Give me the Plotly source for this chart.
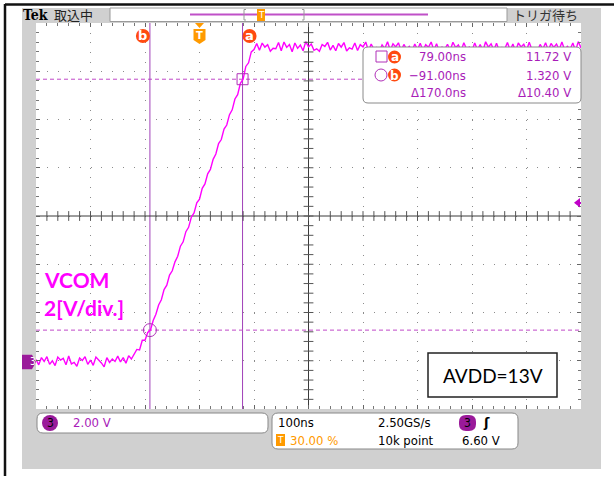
import plotly.graph_objects as go

# ---------------- data ----------------
base_time_ns = [-300, -295, -290, -285, -280, -275, -270, -265, -260, -255,
                -250, -245, -240, -235, -230, -225, -220, -215, -210, -205,
                -200, -195, -190, -185, -180, -175, -170, -165, -160, -155,
                -150, -145, -140, -135, -130, -125]
base_volt = [0.10, -0.12, 0.18, 0.02, 0.22, -0.10, 0.05, -0.15, 0.20, 0.08,
             0.15, -0.12, 0.25, -0.08, -0.02, -0.18, 0.16, 0.06, 0.22, -0.10,
             0.08, -0.14, 0.20, 0.10, -0.04, -0.20, 0.18, -0.02, 0.12, 0.02,
             0.24, 0.00, 0.18, -0.05, 0.26, 0.12]

rise_time_ns = [-120, -115, -110, -105, -100, -95, -90, -85, -80, -75,
                -70, -65, -60, -55, -50, -45, -40, -35, -30, -25,
                -20, -15, -10, -5, 0, 5, 10, 15, 20, 25,
                30, 35, 40, 45, 50, 55, 60, 65, 70, 75,
                80, 85, 90, 95, 100]
rise_volt = [0.30, 0.52, 0.50, 0.90, 0.90, 1.22, 1.32, 1.72, 1.98, 2.36,
             2.58, 3.00, 3.18, 3.60, 3.78, 4.15, 4.38, 4.80, 4.98, 5.40,
             5.58, 6.00, 6.18, 6.60, 6.75, 7.20, 7.38, 7.80, 7.98, 8.40,
             8.62, 9.05, 9.22, 9.65, 9.82, 10.25, 10.45, 10.90, 11.08, 11.55,
             11.72, 12.25, 12.40, 12.85, 12.95]

top_time_ns = [105, 110, 115, 120, 125, 130, 135, 140, 145, 150,
               155, 160, 165, 170, 175, 180, 185, 190, 195, 200,
               205, 210, 215, 220, 225, 230, 235, 240, 245, 250,
               255, 260, 265, 270, 275, 280, 285, 290, 295, 300,
               305, 310, 315, 320, 325, 330, 335, 340, 345, 350,
               355, 360, 365, 370, 375, 380, 385, 390, 395, 400,
               405, 410, 415, 420, 425, 430, 435, 440, 445, 450,
               455, 460, 465, 470, 475, 480, 485, 490, 495, 500,
               505, 510, 515, 520, 525, 530, 535, 540, 545, 550,
               555, 560, 565, 570, 575, 580, 585, 590, 595, 600,
               605, 610, 615, 620, 625, 630, 635, 640, 645, 650,
               655, 660, 665, 670, 675, 680, 685, 690, 695, 700]
top_volt = [13.20, 12.92, 13.22, 13.05, 13.15, 12.88, 13.00, 12.98, 13.24, 12.90,
            13.26, 13.04, 13.16, 12.86, 13.22, 13.00, 13.14, 12.90, 13.28, 13.06,
            13.18, 12.92, 12.98, 12.88, 13.16, 13.08, 13.25, 12.93, 13.12, 12.90,
            13.20, 13.05, 13.24, 12.89, 13.02, 12.97, 13.22, 12.91, 13.15, 13.06,
            13.26, 12.90, 13.18, 12.96, 13.04, 12.88, 13.14, 12.99, 13.27, 12.92,
            13.19, 13.06, 13.23, 12.90, 13.16, 12.97, 13.08, 12.89, 13.18, 12.95,
            13.21, 12.91, 13.15, 13.04, 13.26, 12.93, 13.19, 12.88, 13.05, 12.96,
            13.17, 12.92, 13.25, 13.03, 13.14, 12.90, 13.23, 12.97, 13.06, 12.91,
            13.22, 12.94, 13.16, 12.89, 13.27, 13.05, 13.19, 12.93, 13.21, 12.90,
            13.04, 12.97, 13.24, 12.92, 13.18, 12.88, 13.22, 13.06, 13.17, 12.91,
            13.25, 12.94, 13.02, 12.90, 13.16, 12.97, 13.23, 12.92, 13.20, 13.04,
            13.18, 12.95, 13.26, 12.93, 13.08, 12.96, 13.22, 12.90, 13.28, 13.02]

cursor_labels = ["a", "b"]
cursor_time_ns = [79.0, -91.0]
cursor_volt = [11.72, 1.320]
readout_rows = [["79.00ns", "11.72 V"], ["\u221291.00ns", "1.320 V"], ["\u0394170.0ns", "\u039410.40 V"]]
trigger_level_v = 6.60
trigger_time_ns = 0.0
x_range_ns = [-300, 700]       # 100 ns/div, trigger at 30 %
y_range_v = [-1.95, 14.05]     # 2 V/div
x_div = 100
y_div = 2
status_left = "取込中"
status_right = "トリガ待ち"
ch_scale = "2.00 V"
timebase = "100ns"
sample_rate = "2.50GS/s"
trig_pos = "30.00 %"
rec_len = "10k point"
trig_level_txt = "6.60 V"
label_signal = ["VCOM", "2[V/div.]"]
label_supply = "AVDD=13V"

# ---------------- geometry helpers (pixel -> paper) ----------------
W, H = 614, 477
L, R, T, B = 36, 581, 23, 409


def X(px):
    return (px - L) / (R - L)


def Y(py):
    return (B - py) / (B - T)


def rrect(x0, y0, x1, y1, r):
    return (f"M {X(x0+r)},{Y(y0)} L {X(x1-r)},{Y(y0)} Q {X(x1)},{Y(y0)} {X(x1)},{Y(y0+r)} "
            f"L {X(x1)},{Y(y1-r)} Q {X(x1)},{Y(y1)} {X(x1-r)},{Y(y1)} "
            f"L {X(x0+r)},{Y(y1)} Q {X(x0)},{Y(y1)} {X(x0)},{Y(y1-r)} "
            f"L {X(x0)},{Y(y0+r)} Q {X(x0)},{Y(y0)} {X(x0+r)},{Y(y0)} Z")


MONO = "DejaVu Sans Condensed, DejaVu Sans, sans-serif"
JP = "Noto Sans CJK JP"
PURPLE_TXT = "#A81CB8"
GREY = "#D0D0D0"
ORANGE = "#FF9A00"
RED_ORANGE = "#FF4A10"

shapes = []
anns = []


def ann(text, x, y, size=12, color="black", xanchor="left", family=MONO, **kw):
    anns.append(dict(text=text, x=X(x), y=Y(y), xref="paper", yref="paper", showarrow=False,
                     xanchor=xanchor, yanchor="middle", font=dict(size=size, color=color, family=family), **kw))


def rect(x0, y0, x1, y1, fill, line=None, lw=1, layer="above"):
    shapes.append(dict(type="rect", xref="paper", yref="paper", x0=X(x0), x1=X(x1), y0=Y(y0), y1=Y(y1),
                       fillcolor=fill, line=dict(color=line or fill, width=lw if line else 0), layer=layer))


def pline(x0, y0, x1, y1, color, w=1, dash="solid"):
    shapes.append(dict(type="line", xref="paper", yref="paper", x0=X(x0), x1=X(x1), y0=Y(y0), y1=Y(y1),
                       line=dict(color=color, width=w, dash=dash), layer="above"))


# ---------------- figure ----------------
fig = go.Figure()

time_all = base_time_ns + rise_time_ns + top_time_ns
volt_all = base_volt + rise_volt + top_volt
fig.add_trace(go.Scatter(x=time_all, y=volt_all, mode="lines",
                         line=dict(color="#FF00FF", width=1.4), hoverinfo="skip", showlegend=False))

# centre crosshair with minor ticks (graticule)
xc = (x_range_ns[0] + x_range_ns[1]) / 2
yc = (y_range_v[0] + y_range_v[1]) / 2
shapes.append(dict(type="line", xref="x", yref="y", x0=x_range_ns[0], x1=x_range_ns[1], y0=yc, y1=yc,
                   line=dict(color="#3a3a3a", width=1), layer="between"))
shapes.append(dict(type="line", xref="x", yref="y", x0=xc, x1=xc, y0=y_range_v[0], y1=y_range_v[1],
                   line=dict(color="#3a3a3a", width=1), layer="between"))
n_x = int(round((x_range_ns[1] - x_range_ns[0]) / (x_div / 5)))
n_y = int(round((y_range_v[1] - y_range_v[0]) / (y_div / 5)))
tx = [x_range_ns[0] + i * x_div / 5 for i in range(1, n_x)]
ty = [y_range_v[0] + i * y_div / 5 for i in range(1, n_y)]
fig.add_trace(go.Scatter(x=tx, y=[yc] * len(tx), mode="markers", hoverinfo="skip", showlegend=False,
                         marker=dict(symbol="line-ns", size=7, line=dict(color="#555", width=1))))
fig.add_trace(go.Scatter(x=[xc] * len(ty), y=ty, mode="markers", hoverinfo="skip", showlegend=False,
                         marker=dict(symbol="line-ew", size=7, line=dict(color="#555", width=1))))

# cursors
for lab, ct, cv in zip(cursor_labels, cursor_time_ns, cursor_volt):
    shapes.append(dict(type="line", xref="x", yref="paper", x0=ct, x1=ct, y0=0, y1=1,
                       line=dict(color="#A040B8", width=1), layer="between"))
    shapes.append(dict(type="line", xref="paper", yref="y", x0=0, x1=1, y0=cv, y1=cv,
                       line=dict(color="#C048C8", width=1, dash="4px,3px"), layer="between"))
fig.add_trace(go.Scatter(x=[cursor_time_ns[0]], y=[cursor_volt[0]], mode="markers", hoverinfo="skip",
                         showlegend=False,
                         marker=dict(symbol="square-open", size=11, color="#B030B8", line=dict(width=1))))
fig.add_trace(go.Scatter(x=[cursor_time_ns[1]], y=[cursor_volt[1]], mode="markers", hoverinfo="skip",
                         showlegend=False,
                         marker=dict(symbol="circle-open", size=13, color="#B030B8", line=dict(width=1))))

# cursor badges at top of graticule
for lab, ct, off in zip(cursor_labels, cursor_time_ns, [7, -7]):
    shapes.append(dict(type="circle", xref="x", yref="paper", xsizemode="pixel", ysizemode="pixel",
                       xanchor=ct, yanchor=1, x0=off - 7, x1=off + 7, y0=-(36 - T) - 7, y1=-(36 - T) + 7,
                       fillcolor=RED_ORANGE, line=dict(width=0), layer="above"))
    anns.append(dict(text=f"<b>{lab}</b>", x=ct, y=1, xref="x", yref="paper", xshift=off, yshift=-(36 - T) + 1,
                     xanchor="center", yanchor="middle", showarrow=False,
                     font=dict(size=13, color="white", family="DejaVu Sans")))

# trigger position marker (T): small down-triangle on the top edge plus badge
shapes.append(dict(type="path", xref="x", yref="paper", xsizemode="pixel", ysizemode="pixel",
                   xanchor=trigger_time_ns, yanchor=1,
                   path="M -4.5,0 L 4.5,0 L 0,-5 Z",
                   fillcolor=ORANGE, line=dict(width=0), layer="above"))
shapes.append(dict(type="path", xref="x", yref="paper", xsizemode="pixel", ysizemode="pixel",
                   xanchor=trigger_time_ns, yanchor=1,
                   path="M -6,-6 L 6,-6 L 6,-17 L 0,-21 L -6,-17 Z",
                   fillcolor=ORANGE, line=dict(width=0), layer="above"))
anns.append(dict(text="<b>T</b>", x=trigger_time_ns, y=1, xref="x", yref="paper", yshift=-12.5, showarrow=False,
                 xanchor="center", yanchor="middle", font=dict(size=10, color="white", family="DejaVu Sans")))

# trigger level arrow on right edge
shapes.append(dict(type="path", xref="paper", yref="y",
                   path=f"M {X(574)},{trigger_level_v} L {X(580)},{trigger_level_v + 0.2} "
                        f"L {X(580)},{trigger_level_v - 0.2} Z",
                   fillcolor="#C000C8", line=dict(width=0), layer="above"))
pline(578, 203, 581, 203, "#C000C8", 2)

# ---------------- scope chrome ----------------
rect(22, 8, 601, 23, GREY)
rect(22, 409, 601, 469, GREY)
rect(22, 8, 36, 469, GREY)
rect(581, 8, 601, 469, GREY)
pline(5, 4.5, 614, 4.5, "#111", 2.5)
pline(5, 4, 5, 476, "#111", 2.5)
rect(110, 8, 507, 21.5, "white", "#9a9a9a", 1)
pline(190, 14.5, 428, 14.5, "#C050C8", 2)
for bx, d in [(244, 1), (304, -1)]:
    pline(bx, 9.5, bx, 20, "#999", 1)
    pline(bx, 9.5, bx + 2 * d, 9.5, "#999", 1)
    pline(bx, 20, bx + 2 * d, 20, "#999", 1)
rect(257, 9, 265, 21, ORANGE)
ann("T", 261, 15, 9, "white", "center", "DejaVu Sans")
ann("<b>Tek</b>", 21, 15, 14, "black", "left", "DejaVu Serif Condensed, DejaVu Serif")
ann(status_left, 52, 15, 13, "#222", "left", JP)
ann(status_right, 511, 15, 13, "#333", "left", JP)

# channel 3 ground marker
shapes.append(dict(type="path", xref="paper", yref="y",
                   path=f"M {X(22)},{0.3} L {X(32)},{0.3} L {X(36)},{0} L {X(32)},{-0.3} L {X(22)},{-0.3} Z",
                   fillcolor="#9A1A9A", line=dict(width=0), layer="above"))
anns.append(dict(text="3", x=X(28), y=0, xref="paper", yref="y", showarrow=False,
                 font=dict(size=10, color="white", family=MONO)))

# cursor readout box
shapes.append(dict(type="path", xref="paper", yref="paper", path=rrect(363, 47, 581, 103, 5),
                   fillcolor="white", line=dict(color="#8a8a8a", width=1), layer="above"))
row_y = [57, 75, 93]
for i in range(2):
    if i == 0:
        rect(376, row_y[i] - 6, 387, row_y[i] + 5, "white", "#B030B8", 1)
    else:
        shapes.append(dict(type="circle", xref="paper", yref="paper", x0=X(375), x1=X(387),
                           y0=Y(row_y[i] - 6), y1=Y(row_y[i] + 6), fillcolor="white",
                           line=dict(color="#B030B8", width=1), layer="above"))
    shapes.append(dict(type="circle", xref="paper", yref="paper", x0=X(388), x1=X(401),
                       y0=Y(row_y[i] - 6.5), y1=Y(row_y[i] + 6.5), fillcolor=RED_ORANGE,
                       line=dict(width=0), layer="above"))
    ann(f"<b>{cursor_labels[i]}</b>", 394.5, row_y[i] + 0.5, 12, "white", "center", "DejaVu Sans")
for i, (tt, vv) in enumerate(readout_rows):
    ann(tt, 468, row_y[i], 13, PURPLE_TXT, "right")
    ann(vv, 573, row_y[i], 13, PURPLE_TXT, "right")

# bottom readouts
shapes.append(dict(type="path", xref="paper", yref="paper", path=rrect(37, 413, 268, 433, 6),
                   fillcolor="white", line=dict(color="#888", width=1), layer="above"))
shapes.append(dict(type="circle", xref="paper", yref="paper", x0=X(42), x1=X(58), y0=Y(431), y1=Y(415),
                   fillcolor="#9A1A9A", line=dict(width=0), layer="above"))
ann("3", 50, 423, 12, "black", "center")
ann(ch_scale, 71, 423, 13, PURPLE_TXT, "left")
shapes.append(dict(type="path", xref="paper", yref="paper", path=rrect(272, 413, 518, 449, 6),
                   fillcolor="white", line=dict(color="#888", width=1), layer="above"))
ann(timebase, 276, 423, 13, "black", "left")
ann(sample_rate, 376, 423, 13, "black", "left")
shapes.append(dict(type="path", xref="paper", yref="paper", path=rrect(459, 415, 476, 431, 7),
                   fillcolor="#9A1A9A", line=dict(width=0), layer="above"))
ann("3", 467.5, 423, 12, "black", "center")
ann("<b>ʃ</b>", 486, 423, 13, "black", "center", "DejaVu Sans")
rect(276, 434, 285, 446, ORANGE)
ann("T", 280.5, 440, 9, "white", "center", "DejaVu Sans")
ann(trig_pos, 288, 440, 13, ORANGE, "left")
ann(rec_len, 376, 440, 13, "black", "left")
ann(trig_level_txt, 460, 440, 13, "black", "left")

# annotation labels on the screen
ann(f"<b>{label_signal[0]}</b>", 42, 279, 21, "#FF00FF", "left", "Lato")
ann(f"<b>{label_signal[1]}</b>", 42, 307, 21, "#FF00FF", "left", "Lato")
rect(428, 353, 557, 397, "white", "#222", 1.5)
ann(label_supply, 492.5, 375, 19, "black", "center", "Lato")

axis_common = dict(showticklabels=False, zeroline=False, showline=True, linecolor="#444", linewidth=1,
                   mirror="allticks", ticks="inside", ticklen=4, tickcolor="#666", showgrid=True,
                   gridcolor="#8c8c8c", gridwidth=1, fixedrange=True)
fig.update_xaxes(range=x_range_ns, tick0=x_range_ns[0], dtick=x_div, griddash="1px,8.65px",
                 minor=dict(ticks="inside", dtick=x_div / 5, tick0=x_range_ns[0], ticklen=3,
                            tickcolor="#777", showgrid=False), **axis_common)
fig.update_yaxes(range=y_range_v, tick0=y_range_v[0], dtick=y_div, griddash="1px,9.9px",
                 minor=dict(ticks="inside", dtick=y_div / 5, tick0=y_range_v[0], ticklen=3,
                            tickcolor="#777", showgrid=False), **axis_common)

fig.update_layout(width=W, height=H, autosize=False,
                  margin=dict(l=L, r=W - R, t=T, b=H - B, pad=0),
                  paper_bgcolor="white", plot_bgcolor="white",
                  shapes=shapes, annotations=anns, showlegend=False)

fig.write_html("out.html", config={"displayModeBar": False},
               post_script="document.body.style.margin='0';document.body.style.overflow='hidden';")
